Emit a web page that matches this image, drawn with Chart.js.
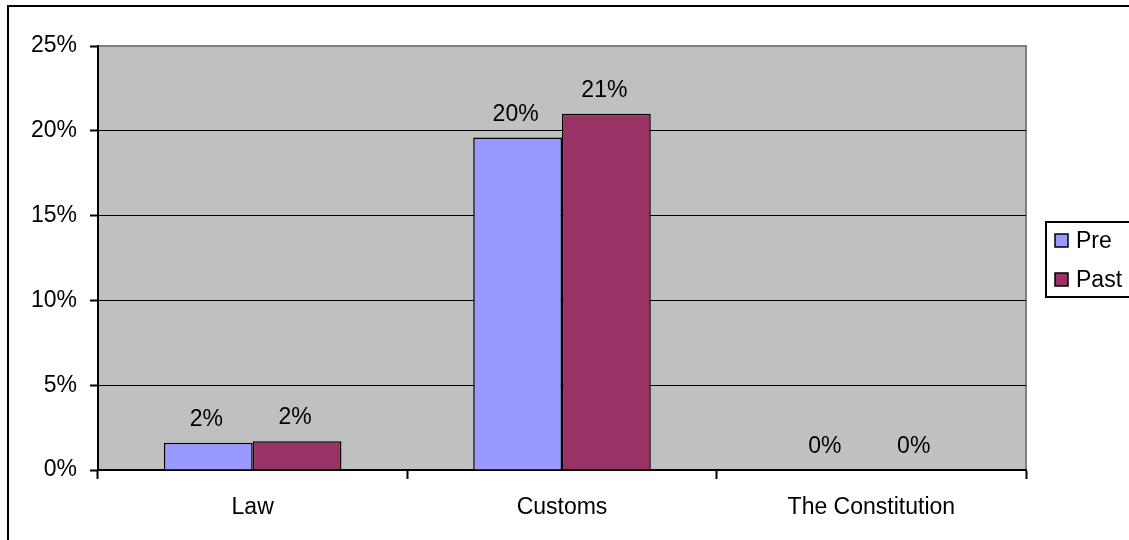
<!DOCTYPE html>
<html>
<head>
<meta charset="utf-8">
<script src="https://cdn.jsdelivr.net/npm/chart.js@4/dist/chart.umd.min.js"></script>
<style>
  html, body { margin: 0; padding: 0; background: #fff; }
  canvas { display: block; }
</style>
</head>
<body>
<canvas id="chart" width="1129" height="540"></canvas>
<script>
const categories = ['Law', 'Customs', 'The Constitution'];
const preValues = [1.6, 19.6, 0];
const pastValues = [1.7, 21.0, 0];
const yTicks = [0, 5, 10, 15, 20, 25];

const FONT = "'Liberation Sans', Arial, sans-serif";

// gray plot area, outer frame
const background = {
    id: 'background',
    beforeDraw(chart) {
        const {ctx, chartArea: a} = chart;
        ctx.save();
        ctx.fillStyle = '#fff';
        ctx.fillRect(0, 0, chart.width, chart.height);
        ctx.strokeStyle = '#000';
        ctx.lineWidth = 2;
        ctx.strokeRect(8, 6, chart.width + 20, chart.height + 20);
        ctx.fillStyle = '#C0C0C0';
        ctx.fillRect(a.left, a.top, a.right - a.left, a.bottom - a.top);
        ctx.strokeStyle = '#808080';
        ctx.lineWidth = 2;
        ctx.beginPath();
        ctx.moveTo(a.left, a.top);
        ctx.lineTo(a.right, a.top);
        ctx.lineTo(a.right, a.bottom);
        ctx.stroke();
        ctx.restore();
    }
};

// value labels above bars + boxed legend
const labels = {
    id: 'labels',
    afterDatasetsDraw(chart) {
        const ctx = chart.ctx;
        ctx.save();
        ctx.font = '23px ' + FONT;
        ctx.fillStyle = '#000';
        ctx.textAlign = 'center';
        ctx.textBaseline = 'alphabetic';
        chart.data.datasets.forEach((ds, i) => {
            chart.getDatasetMeta(i).data.forEach((bar, j) => {
                ctx.fillText(Math.round(ds.data[j]) + '%', bar.x - 2, bar.y - 17);
            });
        });

        // legend
        ctx.strokeStyle = '#000';
        ctx.lineWidth = 2;
        ctx.fillStyle = '#fff';
        ctx.fillRect(1046, 222, 100, 75);
        ctx.strokeRect(1046, 222, 100, 75);
        ctx.textAlign = 'left';
        ctx.textBaseline = 'middle';
        chart.data.datasets.forEach((ds, i) => {
            const y = 241 + i * 39;
            ctx.fillStyle = ds.backgroundColor;
            ctx.fillRect(1055, y - 7, 13, 13);
            ctx.lineWidth = 1.5;
            ctx.strokeRect(1055, y - 7, 13, 13);
            ctx.fillStyle = '#000';
            ctx.fillText(ds.label, 1076, y + 1);
        });
        ctx.restore();
    }
};

new Chart(document.getElementById('chart'), {
    type: 'bar',
    data: {
        labels: categories,
        datasets: [
            {label: 'Pre', data: preValues, backgroundColor: '#9999FF', borderColor: '#000', borderWidth: 1.5},
            {label: 'Past', data: pastValues, backgroundColor: '#993366', borderColor: '#000', borderWidth: 1.5}
        ]
    },
    options: {
        responsive: false,
        animation: false,
        layout: {padding: {top: 46, right: 103, left: 0, bottom: 0}},
        datasets: {bar: {categoryPercentage: 0.574, barPercentage: 1}},
        plugins: {legend: {display: false}, tooltip: {enabled: false}},
        scales: {
            x: {
                afterFit(s) { s.height = 70; },
                grid: {drawOnChartArea: false, tickLength: 9, tickColor: '#000', tickWidth: 2, offset: true},
                border: {color: '#000', width: 2},
                ticks: {color: '#000', font: {family: FONT, size: 23}, padding: 15}
            },
            y: {
                min: 0,
                max: 25,
                afterFit(s) { s.width = 98; },
                afterBuildTicks(s) { s.ticks = yTicks.map(v => ({value: v})); },
                grid: {
                    color: ctx => ctx.tick && ctx.tick.value === 25 ? 'rgba(0,0,0,0)' : '#000',
                    lineWidth: 1,
                    tickLength: 8,
                    tickColor: '#000',
                    tickWidth: 2
                },
                border: {color: '#000', width: 2},
                ticks: {
                    color: '#000',
                    font: {family: FONT, size: 23},
                    padding: 13,
                    callback: v => v + '%'
                }
            }
        }
    },
    plugins: [background, labels]
});
</script>
</body>
</html>
